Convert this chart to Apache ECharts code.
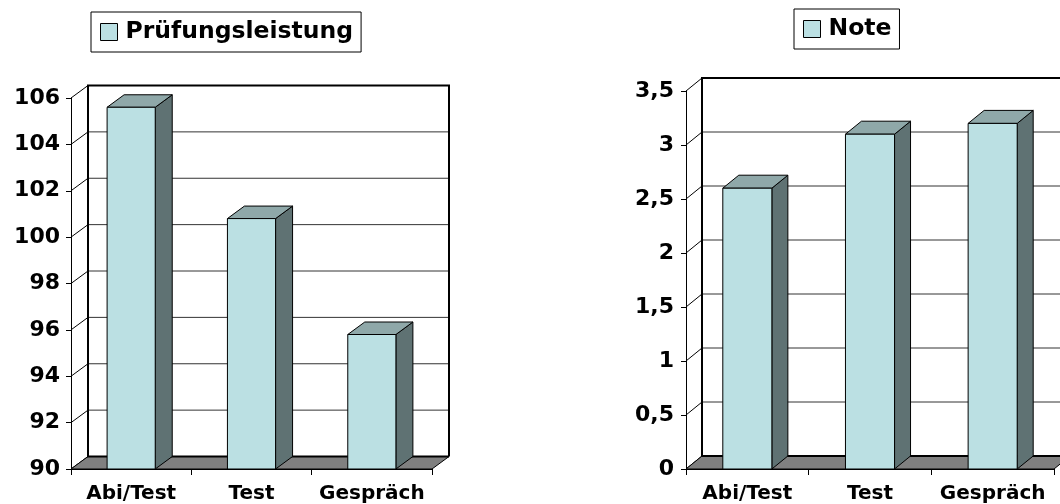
<!DOCTYPE html>
<html>
<head>
<meta charset="utf-8">
<script src="https://cdn.jsdelivr.net/npm/echarts@6/dist/echarts.min.js"></script>
<style>
  html, body { margin: 0; padding: 0; background: #fff; }
  #chart { width: 1060px; height: 504px; }
</style>
</head>
<body>
<div id="chart"></div>
<script>
// Categories and values
const categories = ['Abi/Test', 'Test', 'Gespräch'];
const leistungValues = [105.6, 100.8, 95.8];
const noteValues = [2.6, 3.1, 3.2];

// Value-axis ticks and their labels
const leistungTicks = [90, 92, 94, 96, 98, 100, 102, 104, 106];
const leistungTickLabels = ['90', '92', '94', '96', '98', '100', '102', '104', '106'];
const noteTicks = [0, 0.5, 1, 1.5, 2, 2.5, 3, 3.5];
const noteTickLabels = ['0', '0,5', '1', '1,5', '2', '2,5', '3', '3,5'];

// Series names (legend entries)
const leistungName = 'Prüfungsleistung';
const noteName = 'Note';

// Styling
const FONT = 'DejaVu Sans';
const FACE_FRONT = '#BBE0E3';
const FACE_TOP = '#8FA8A9';
const FACE_SIDE = '#5F7273';
const FLOOR = '#808080';
const GRID_LINE = '#333333';

// Depth offset of the pseudo-3D frame, in pixels [dx, dy]
const depthLeft = [17, -12.5];
const depthRight = [16, -13];

// Draws floor, side wall diagonals and back wall with its gridlines
function frameRenderer(ticks, depth) {
  return function (params, api) {
    const cs = params.coordSys;
    const x0 = cs.x, x1 = cs.x + cs.width;
    const dx = depth[0], dy = depth[1];
    const yBase = api.coord([0, ticks[0]])[1];
    const yTop = api.coord([0, ticks[ticks.length - 1]])[1];
    const children = [];
    ticks.forEach(function (t, i) {
      const y = api.coord([0, t])[1];
      if (i > 0 && i < ticks.length - 1) {
        children.push({
          type: 'line',
          shape: { x1: x0 + dx, y1: y + dy, x2: x1 + dx, y2: y + dy },
          style: { stroke: GRID_LINE, lineWidth: 1 }
        });
      }
      children.push({
        type: 'line',
        shape: { x1: x0, y1: y, x2: x0 + dx, y2: y + dy },
        style: { stroke: '#000', lineWidth: 1 }
      });
    });
    children.push({
      type: 'polygon',
      shape: { points: [[x0, yBase], [x1, yBase], [x1 + dx, yBase + dy], [x0 + dx, yBase + dy]] },
      style: { fill: FLOOR, stroke: '#000', lineWidth: 1 }
    });
    children.push({
      type: 'polyline',
      shape: { points: [[x1 + dx, yBase + dy], [x0 + dx, yBase + dy], [x0 + dx, yTop + dy], [x1 + dx, yTop + dy], [x1 + dx, yBase + dy]] },
      style: { stroke: '#000', lineWidth: 2, fill: null }
    });
    return { type: 'group', children: children };
  };
}

// Draws a box-shaped column: front, top and side faces
function barRenderer(baseValue, depth) {
  return function (params, api) {
    const idx = api.value(0);
    const v = api.value(1);
    const top = api.coord([idx, v]);
    const base = api.coord([idx, baseValue]);
    const w = api.size([1, 0])[0] * 0.4;
    const dx = depth[0], dy = depth[1];
    const l = top[0] - w / 2, r = top[0] + w / 2;
    const yt = top[1], yb = base[1];
    return {
      type: 'group',
      children: [
        {
          type: 'polygon',
          shape: { points: [[r, yt], [r + dx, yt + dy], [r + dx, yb + dy], [r, yb]] },
          style: { fill: FACE_SIDE, stroke: '#000', lineWidth: 1 }
        },
        {
          type: 'polygon',
          shape: { points: [[l, yt], [l + dx, yt + dy], [r + dx, yt + dy], [r, yt]] },
          style: { fill: FACE_TOP, stroke: '#000', lineWidth: 1 }
        },
        {
          type: 'rect',
          shape: { x: l, y: yt, width: w, height: yb - yt },
          style: { fill: FACE_FRONT, stroke: '#000', lineWidth: 1 }
        }
      ]
    };
  };
}

function valueAxis(gridIndex, ticks, labels, margin) {
  return {
    type: 'value',
    gridIndex: gridIndex,
    min: ticks[0],
    max: ticks[ticks.length - 1],
    interval: ticks[1] - ticks[0],
    axisLine: { show: true, lineStyle: { color: '#000', width: 1 } },
    axisTick: { show: true, length: 5, lineStyle: { color: '#000', width: 1 } },
    splitLine: { show: false },
    axisLabel: {
      margin: margin,
      color: '#000',
      fontFamily: FONT,
      fontWeight: 'bold',
      fontSize: 22,
      formatter: function (val) {
        const i = ticks.findIndex(function (t) { return Math.abs(t - val) < 1e-9; });
        return i >= 0 ? labels[i] : '';
      }
    }
  };
}

function categoryAxis(gridIndex) {
  return {
    type: 'category',
    gridIndex: gridIndex,
    data: categories,
    boundaryGap: true,
    axisLine: { show: true, lineStyle: { color: '#000', width: 1 } },
    axisTick: { show: true, length: 6, alignWithLabel: false, lineStyle: { color: '#000', width: 1 } },
    axisLabel: {
      interval: 0,
      margin: 15,
      color: '#000',
      fontFamily: FONT,
      fontWeight: 'bold',
      fontSize: 20
    }
  };
}

function legendBox(name, left, top) {
  return {
    show: true,
    left: left,
    top: top,
    orient: 'horizontal',
    backgroundColor: '#fff',
    borderColor: '#000',
    borderWidth: 1,
    padding: [7, 8, 7, 9],
    itemWidth: 17,
    itemHeight: 17,
    icon: 'rect',
    selectedMode: false,
    data: [{ name: name, itemStyle: { color: FACE_FRONT, borderColor: '#000', borderWidth: 1 } }],
    textStyle: {
      color: '#000',
      fontFamily: FONT,
      fontWeight: 'bold',
      fontSize: 23.5,
      lineHeight: 26,
      padding: [0, 0, 0, 3]
    }
  };
}

const chart = echarts.init(document.getElementById('chart'), null, { renderer: 'canvas' });

chart.setOption({
  animation: false,
  backgroundColor: '#fff',
  legend: [
    legendBox(leistungName, 91, 12),
    legendBox(noteName, 794, 9)
  ],
  grid: [
    { left: 71, top: 98, width: 361, height: 371 },
    { left: 686, top: 91, width: 368, height: 380 }
  ],
  xAxis: [categoryAxis(0), categoryAxis(1)],
  yAxis: [
    valueAxis(0, leistungTicks, leistungTickLabels, 11),
    valueAxis(1, noteTicks, noteTickLabels, 12)
  ],
  series: [
    {
      type: 'custom',
      name: 'frame-left',
      xAxisIndex: 0,
      yAxisIndex: 0,
      z: 1,
      clip: false,
      silent: true,
      renderItem: frameRenderer(leistungTicks, depthLeft),
      data: [[0, leistungTicks[0]]]
    },
    {
      type: 'custom',
      name: leistungName,
      xAxisIndex: 0,
      yAxisIndex: 0,
      z: 3,
      clip: false,
      itemStyle: { color: FACE_FRONT },
      renderItem: barRenderer(leistungTicks[0], depthLeft),
      encode: { x: 0, y: 1 },
      data: leistungValues.map(function (v, i) { return [i, v]; })
    },
    {
      type: 'custom',
      name: 'frame-right',
      xAxisIndex: 1,
      yAxisIndex: 1,
      z: 1,
      clip: false,
      silent: true,
      renderItem: frameRenderer(noteTicks, depthRight),
      data: [[0, noteTicks[0]]]
    },
    {
      type: 'custom',
      name: noteName,
      xAxisIndex: 1,
      yAxisIndex: 1,
      z: 3,
      clip: false,
      itemStyle: { color: FACE_FRONT },
      renderItem: barRenderer(noteTicks[0], depthRight),
      encode: { x: 0, y: 1 },
      data: noteValues.map(function (v, i) { return [i, v]; })
    }
  ]
});
</script>
</body>
</html>
